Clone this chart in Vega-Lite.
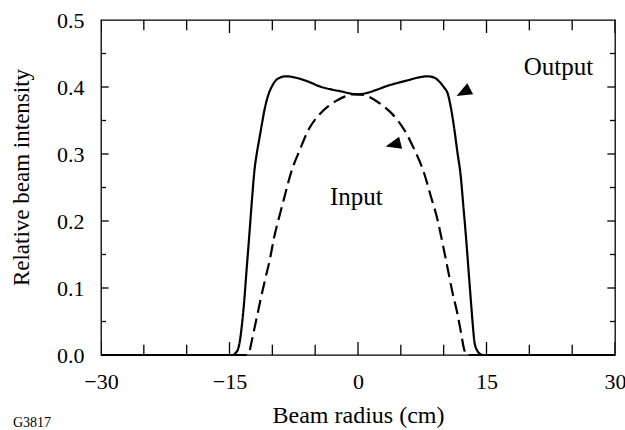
{
  "$schema": "https://vega.github.io/schema/vega-lite/v6.json",
  "width": 514,
  "height": 335,
  "autosize": {"type": "none"},
  "padding": {"left": 101, "top": 20, "right": 10, "bottom": 75},
  "background": "white",
  "config": {"view": {"stroke": "black", "strokeWidth": 1.3}, "font": "Liberation Serif", "axis": {"ticks": false, "domain": false, "grid": false}},
  "title": {"text": "G3817", "orient": "bottom", "anchor": "start", "frame": "group", "fontSize": 14, "fontWeight": "normal", "font": "Liberation Serif", "color": "black", "baseline": "alphabetic", "offset": 0, "dx": -88},
  "datasets": {
    "curves": [
      {"series": "Output", "x": -30, "y": 0}, {"series": "Output", "x": -20, "y": 0}, {"series": "Output", "x": -14.6, "y": 0},
      {"series": "Output", "x": -14.3, "y": 0.003}, {"series": "Output", "x": -14.0, "y": 0.009}, {"series": "Output", "x": -13.8, "y": 0.02},
      {"series": "Output", "x": -13.55, "y": 0.045}, {"series": "Output", "x": -13.3, "y": 0.078}, {"series": "Output", "x": -13.0, "y": 0.128},
      {"series": "Output", "x": -12.7, "y": 0.177}, {"series": "Output", "x": -12.4, "y": 0.228}, {"series": "Output", "x": -12.1, "y": 0.274},
      {"series": "Output", "x": -11.8, "y": 0.302}, {"series": "Output", "x": -11.5, "y": 0.324}, {"series": "Output", "x": -11.2, "y": 0.346},
      {"series": "Output", "x": -10.9, "y": 0.367}, {"series": "Output", "x": -10.5, "y": 0.387}, {"series": "Output", "x": -10.0, "y": 0.402},
      {"series": "Output", "x": -9.4, "y": 0.412}, {"series": "Output", "x": -8.4, "y": 0.416}, {"series": "Output", "x": -7.0, "y": 0.413},
      {"series": "Output", "x": -5.8, "y": 0.408}, {"series": "Output", "x": -4.5, "y": 0.401}, {"series": "Output", "x": -3.0, "y": 0.396},
      {"series": "Output", "x": -1.8, "y": 0.393}, {"series": "Output", "x": -0.8, "y": 0.39}, {"series": "Output", "x": 0, "y": 0.389},
      {"series": "Output", "x": 1.0, "y": 0.391}, {"series": "Output", "x": 2.2, "y": 0.396}, {"series": "Output", "x": 3.5, "y": 0.402},
      {"series": "Output", "x": 4.6, "y": 0.406}, {"series": "Output", "x": 5.8, "y": 0.41}, {"series": "Output", "x": 7.0, "y": 0.414},
      {"series": "Output", "x": 8.1, "y": 0.416}, {"series": "Output", "x": 8.9, "y": 0.414}, {"series": "Output", "x": 9.5, "y": 0.408},
      {"series": "Output", "x": 10.0, "y": 0.4}, {"series": "Output", "x": 10.5, "y": 0.389}, {"series": "Output", "x": 10.8, "y": 0.372},
      {"series": "Output", "x": 11.2, "y": 0.341}, {"series": "Output", "x": 11.6, "y": 0.303}, {"series": "Output", "x": 12.0, "y": 0.266},
      {"series": "Output", "x": 12.3, "y": 0.222}, {"series": "Output", "x": 12.6, "y": 0.177}, {"series": "Output", "x": 12.9, "y": 0.127},
      {"series": "Output", "x": 13.2, "y": 0.077}, {"series": "Output", "x": 13.4, "y": 0.045}, {"series": "Output", "x": 13.6, "y": 0.019},
      {"series": "Output", "x": 13.9, "y": 0.007}, {"series": "Output", "x": 14.2, "y": 0.002}, {"series": "Output", "x": 14.6, "y": 0},
      {"series": "Output", "x": 20, "y": 0}, {"series": "Output", "x": 30, "y": 0},
      {"series": "Input", "x": -30, "y": 0}, {"series": "Input", "x": -13.0, "y": 0}, {"series": "Input", "x": -12.7, "y": 0.004},
      {"series": "Input", "x": -12.5, "y": 0.015}, {"series": "Input", "x": -12.3, "y": 0.027}, {"series": "Input", "x": -11.8, "y": 0.057},
      {"series": "Input", "x": -11.3, "y": 0.087}, {"series": "Input", "x": -10.8, "y": 0.115}, {"series": "Input", "x": -10.3, "y": 0.142},
      {"series": "Input", "x": -9.8, "y": 0.175}, {"series": "Input", "x": -9.2, "y": 0.206}, {"series": "Input", "x": -8.5, "y": 0.24},
      {"series": "Input", "x": -7.8, "y": 0.273}, {"series": "Input", "x": -6.8, "y": 0.306}, {"series": "Input", "x": -5.7, "y": 0.338},
      {"series": "Input", "x": -4.5, "y": 0.359}, {"series": "Input", "x": -3.5, "y": 0.371}, {"series": "Input", "x": -2.6, "y": 0.379},
      {"series": "Input", "x": -1.5, "y": 0.386}, {"series": "Input", "x": -0.6, "y": 0.389}, {"series": "Input", "x": 0, "y": 0.389},
      {"series": "Input", "x": 1.0, "y": 0.387}, {"series": "Input", "x": 1.9, "y": 0.381}, {"series": "Input", "x": 2.9, "y": 0.372},
      {"series": "Input", "x": 3.9, "y": 0.361}, {"series": "Input", "x": 4.7, "y": 0.349}, {"series": "Input", "x": 5.4, "y": 0.336},
      {"series": "Input", "x": 6.6, "y": 0.306}, {"series": "Input", "x": 7.7, "y": 0.272}, {"series": "Input", "x": 8.5, "y": 0.237},
      {"series": "Input", "x": 9.3, "y": 0.201}, {"series": "Input", "x": 9.9, "y": 0.165}, {"series": "Input", "x": 10.5, "y": 0.127},
      {"series": "Input", "x": 11.0, "y": 0.095}, {"series": "Input", "x": 11.6, "y": 0.062}, {"series": "Input", "x": 12.0, "y": 0.035},
      {"series": "Input", "x": 12.4, "y": 0.008}, {"series": "Input", "x": 12.7, "y": 0}, {"series": "Input", "x": 30, "y": 0}
    ],
    "labels": [
      {"label": "Output", "x": 23.4, "y": 0.418},
      {"label": "Input", "x": -0.2, "y": 0.224}
    ],
    "arrowOut": [{"x": 12.3, "y": 0.392}],
    "arrowIn": [{"x": 4.1, "y": 0.314}],
    "xticks": [
      {"v": -30, "kind": "xmajor", "edge": 0}, {"v": -25, "kind": "xminor", "edge": 0}, {"v": -20, "kind": "xminor", "edge": 0},
      {"v": -15, "kind": "xmajor", "edge": 0}, {"v": -10, "kind": "xminor", "edge": 0}, {"v": -5, "kind": "xminor", "edge": 0},
      {"v": 0, "kind": "xmajor", "edge": 0}, {"v": 5, "kind": "xminor", "edge": 0}, {"v": 10, "kind": "xminor", "edge": 0},
      {"v": 15, "kind": "xmajor", "edge": 0}, {"v": 20, "kind": "xminor", "edge": 0}, {"v": 25, "kind": "xminor", "edge": 0},
      {"v": 30, "kind": "xmajor", "edge": 0},
      {"v": -30, "kind": "xmajor", "edge": 0.5}, {"v": -25, "kind": "xminor", "edge": 0.5}, {"v": -20, "kind": "xminor", "edge": 0.5},
      {"v": -15, "kind": "xmajor", "edge": 0.5}, {"v": -10, "kind": "xminor", "edge": 0.5}, {"v": -5, "kind": "xminor", "edge": 0.5},
      {"v": 0, "kind": "xmajor", "edge": 0.5}, {"v": 5, "kind": "xminor", "edge": 0.5}, {"v": 10, "kind": "xminor", "edge": 0.5},
      {"v": 15, "kind": "xmajor", "edge": 0.5}, {"v": 20, "kind": "xminor", "edge": 0.5}, {"v": 25, "kind": "xminor", "edge": 0.5},
      {"v": 30, "kind": "xmajor", "edge": 0.5}
    ],
    "yticks": [
      {"v": 0.05, "kind": "yminor", "edge": -30}, {"v": 0.1, "kind": "ymajor", "edge": -30}, {"v": 0.15, "kind": "yminor", "edge": -30},
      {"v": 0.2, "kind": "ymajor", "edge": -30}, {"v": 0.25, "kind": "yminor", "edge": -30}, {"v": 0.3, "kind": "ymajor", "edge": -30},
      {"v": 0.35, "kind": "yminor", "edge": -30}, {"v": 0.4, "kind": "ymajor", "edge": -30}, {"v": 0.45, "kind": "yminor", "edge": -30},
      {"v": 0.05, "kind": "yminor", "edge": 30}, {"v": 0.1, "kind": "ymajor", "edge": 30}, {"v": 0.15, "kind": "yminor", "edge": 30},
      {"v": 0.2, "kind": "ymajor", "edge": 30}, {"v": 0.25, "kind": "yminor", "edge": 30}, {"v": 0.3, "kind": "ymajor", "edge": 30},
      {"v": 0.35, "kind": "yminor", "edge": 30}, {"v": 0.4, "kind": "ymajor", "edge": 30}, {"v": 0.45, "kind": "yminor", "edge": 30}
    ]
  },
  "layer": [
    {
      "data": {"name": "curves"},
      "mark": {"type": "line", "color": "black", "strokeWidth": 2.2, "interpolate": "monotone"},
      "encoding": {
        "x": {
          "field": "x", "type": "quantitative",
          "scale": {"domain": [-30, 30], "nice": false, "zero": false},
          "axis": {
            "orient": "bottom",
            "values": [-30, -15, 0, 15, 30],
            "format": "d",
            "labelFont": "Liberation Serif", "labelFontSize": 22, "labelColor": "black",
            "labelBaseline": "alphabetic", "labelPadding": 33,
            "labelFlush": false, "labelOverlap": false,
            "title": "Beam radius (cm)", "titleFont": "Liberation Serif", "titleFontSize": 24,
            "titleFontWeight": "normal", "titleColor": "black", "titleBaseline": "alphabetic",
            "titleX": 257, "titleY": 67
          }
        },
        "y": {
          "field": "y", "type": "quantitative",
          "scale": {"domain": [0, 0.5], "nice": false},
          "axis": {
            "orient": "left",
            "values": [0, 0.1, 0.2, 0.3, 0.4, 0.5],
            "format": ".1f",
            "labelFont": "Liberation Serif", "labelFontSize": 22, "labelColor": "black",
            "labelPadding": 17, "labelFlush": false, "labelOverlap": false,
            "title": "Relative beam intensity", "titleFont": "Liberation Serif", "titleFontSize": 23,
            "titleFontWeight": "normal", "titleColor": "black", "titleBaseline": "alphabetic",
            "titleAngle": -90, "titleX": -73, "titleY": 157
          }
        },
        "strokeDash": {
          "field": "series", "type": "nominal",
          "scale": {"domain": ["Output", "Input"], "range": [[1, 0], [13, 6]]},
          "legend": null
        }
      }
    },
    {
      "data": {"name": "xticks"},
      "mark": {"type": "tick", "orient": "vertical", "color": "black", "thickness": 1.3, "opacity": 1, "clip": true},
      "encoding": {
        "x": {"field": "v", "type": "quantitative"},
        "y": {"field": "edge", "type": "quantitative"},
        "size": {"field": "kind", "type": "nominal", "scale": {"domain": ["xmajor", "xminor", "ymajor", "yminor"], "range": [26, 10, 18, 12]}, "legend": null}
      }
    },
    {
      "data": {"name": "yticks"},
      "mark": {"type": "tick", "orient": "horizontal", "color": "black", "thickness": 1.3, "opacity": 1, "clip": true},
      "encoding": {
        "x": {"field": "edge", "type": "quantitative"},
        "y": {"field": "v", "type": "quantitative"},
        "size": {"field": "kind", "type": "nominal", "scale": {"domain": ["xmajor", "xminor", "ymajor", "yminor"], "range": [26, 10, 18, 12]}, "legend": null}
      }
    },
    {
      "data": {"name": "labels"},
      "mark": {"type": "text", "font": "Liberation Serif", "fontSize": 25, "color": "black", "align": "center", "baseline": "alphabetic"},
      "encoding": {
        "x": {"field": "x", "type": "quantitative"},
        "y": {"field": "y", "type": "quantitative"},
        "text": {"field": "label", "type": "nominal"}
      }
    },
    {
      "data": {"name": "arrowOut"},
      "mark": {"type": "point", "shape": "M-1,0L1,-0.8L1,0.8Z", "filled": true, "color": "black", "opacity": 1, "size": 240, "angle": -28},
      "encoding": {
        "x": {"field": "x", "type": "quantitative"},
        "y": {"field": "y", "type": "quantitative"}
      }
    },
    {
      "data": {"name": "arrowIn"},
      "mark": {"type": "point", "shape": "M-1,0L1,-0.8L1,0.8Z", "filled": true, "color": "black", "opacity": 1, "size": 240, "angle": -14},
      "encoding": {
        "x": {"field": "x", "type": "quantitative"},
        "y": {"field": "y", "type": "quantitative"}
      }
    }
  ]
}
